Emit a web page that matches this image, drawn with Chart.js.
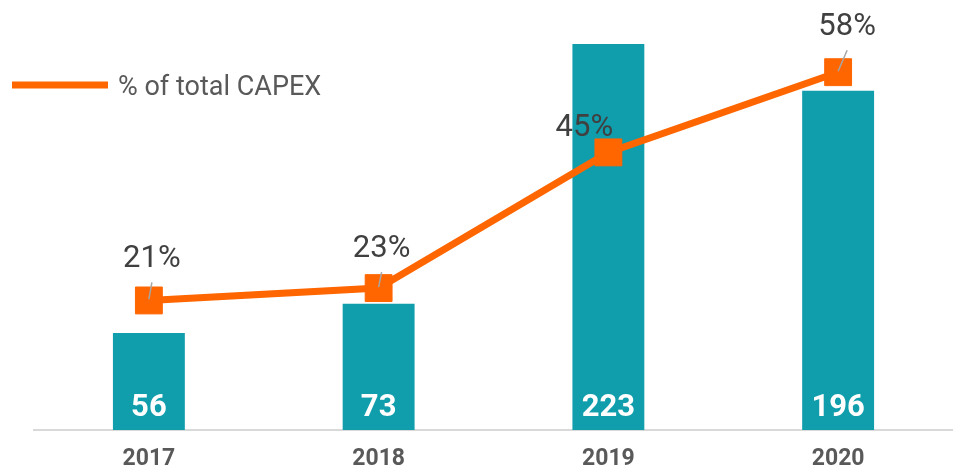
<!DOCTYPE html>
<html>
<head>
<meta charset="utf-8">
<script src="https://cdn.jsdelivr.net/npm/chart.js@4/dist/chart.umd.min.js"></script>
<style>
  html, body { margin: 0; padding: 0; background: #fff; overflow: hidden; }
  #wrap { width: 953px; height: 471px; position: relative; }
</style>
</head>
<body>
<div id="wrap"><canvas id="capexChart"></canvas></div>
<script>
const years = ["2017", "2018", "2019", "2020"];
const capexValues = [56, 73, 223, 196];
const capexShare = [21, 23, 45, 58];
const shareLabels = ["21%", "23%", "45%", "58%"];
const lineLabel = "% of total CAPEX";

const TEAL = "#109DAC";
const ORANGE = "#FF6600";

// label offset from each point [dx, dy], styling only
const shareLabelOffsets = [[3, -41], [3, -39], [-24, -24], [9, -45]];

const legendPlugin = {
  id: "sideLegend",
  afterDraw(chart) {
    const ctx = chart.ctx;
    ctx.save();
    ctx.strokeStyle = ORANGE;
    ctx.lineWidth = 7;
    ctx.beginPath();
    ctx.moveTo(12, 85);
    ctx.lineTo(108, 85);
    ctx.stroke();
    ctx.fillStyle = "#595959";
    ctx.font = "27px Roboto";
    ctx.textBaseline = "middle";
    ctx.textAlign = "left";
    ctx.fillText(chart.data.datasets[0].label, 118, 88);
    ctx.restore();
  },
};

const valueLabelsPlugin = {
  id: "valueLabels",
  afterDatasetsDraw(chart) {
    const ctx = chart.ctx;
    ctx.save();
    // bar values, white bold at bottom of bar
    const barMeta = chart.getDatasetMeta(1);
    ctx.fillStyle = "#fff";
    ctx.font = "bold 31px Roboto";
    ctx.textAlign = "center";
    ctx.textBaseline = "alphabetic";
    barMeta.data.forEach((bar, i) => {
      ctx.fillText(String(capexValues[i]), bar.x, bar.base - 14);
    });

    // line labels with leader lines
    const lineMeta = chart.getDatasetMeta(0);
    ctx.font = "31px Roboto";
    ctx.textBaseline = "middle";
    lineMeta.data.forEach((pt, i) => {
      const [dx, dy] = shareLabelOffsets[i];
      const lx = pt.x + dx;
      const ly = pt.y + dy;
      if (i !== 2) {
        ctx.strokeStyle = "#A6A6A6";
        ctx.lineWidth = 1.5;
        ctx.beginPath();
        ctx.moveTo(lx, ly + 23);
        ctx.lineTo(pt.x, pt.y - 1);
        ctx.stroke();
      }
      ctx.fillStyle = "#404040";
      ctx.fillText(shareLabels[i], lx, ly);
    });
    ctx.restore();
  },
};

const ctx = document.getElementById("capexChart").getContext("2d");
new Chart(ctx, {
  data: {
    labels: years,
    datasets: [
      {
        type: "line",
        label: lineLabel,
        data: capexShare,
        yAxisID: "y1",
        borderColor: ORANGE,
        backgroundColor: ORANGE,
        borderWidth: 7,
        pointStyle: "rect",
        pointRadius: 19,
        pointBorderWidth: 1,
        pointBackgroundColor: ORANGE,
        pointBorderColor: ORANGE,
        tension: 0,
        order: 0,
      },
      {
        type: "bar",
        label: "CAPEX",
        data: capexValues,
        yAxisID: "y",
        backgroundColor: TEAL,
        categoryPercentage: 1,
        barPercentage: 0.313,
        order: 1,
      },
    ],
  },
  options: {
    responsive: true,
    maintainAspectRatio: false,
    animation: false,
    layout: {
      autoPadding: false,
      padding: { left: 34, right: 0, top: 0, bottom: 0 },
    },
    plugins: {
      legend: { display: false },
      tooltip: { enabled: false },
    },
    scales: {
      x: {
        grid: { display: false, drawTicks: false },
        border: { display: true, color: "#D9D9D9", width: 2 },
        ticks: {
          color: "#595959",
          font: { family: "Roboto", size: 23, weight: "bold" },
          padding: 15,
        },
        afterFit(scale) {
          scale.height = 41;
        },
      },
      y: { display: false, min: 0, max: 248.4 },
      y1: { display: false, min: 0, max: 69.7 },
    },
  },
  plugins: [legendPlugin, valueLabelsPlugin],
});
</script>
</body>
</html>
